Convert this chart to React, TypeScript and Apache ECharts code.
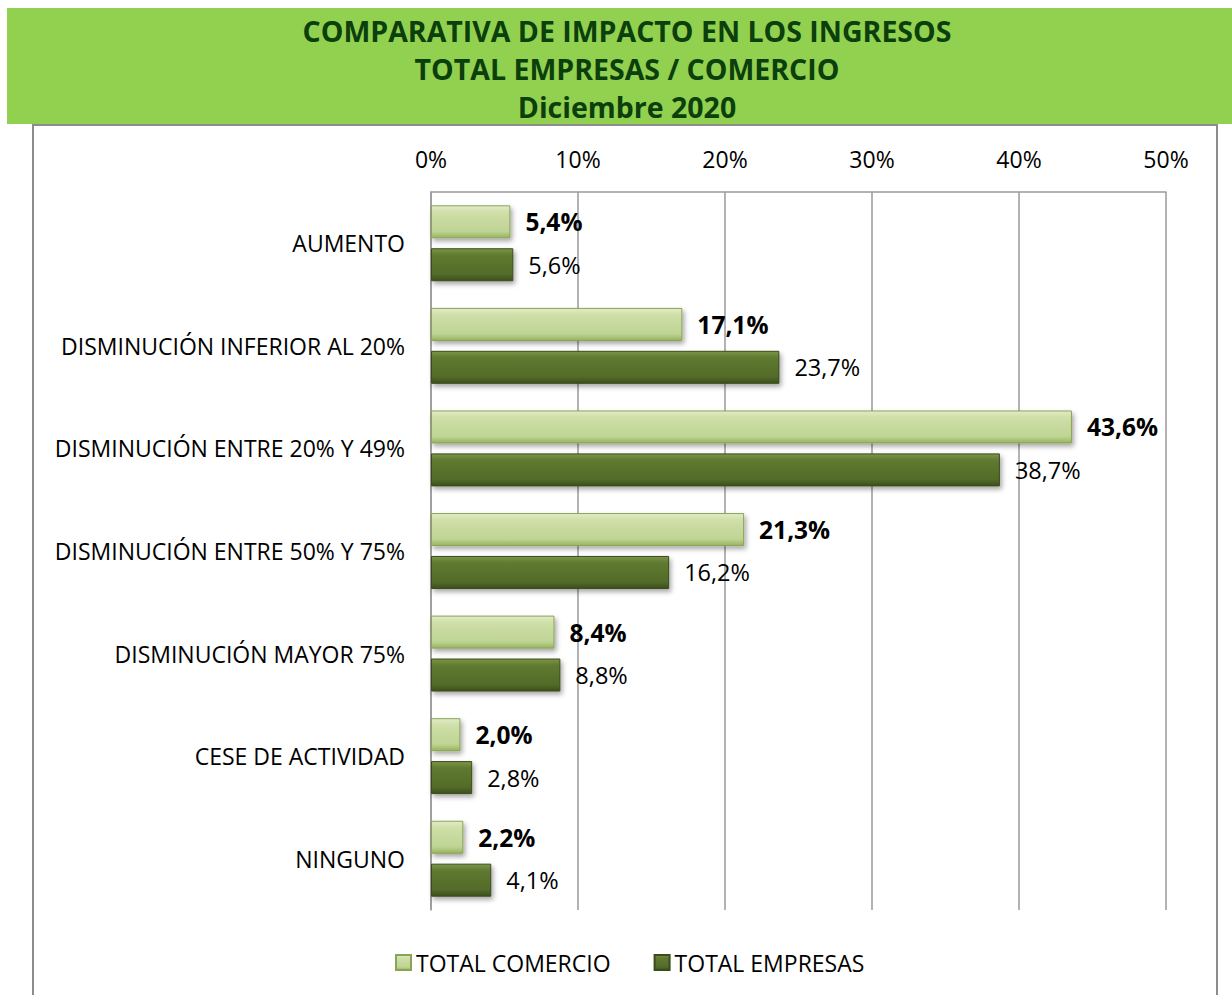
import React, { useEffect, useRef } from "react";
import * as echarts from "echarts";

const categories = [
  "AUMENTO",
  "DISMINUCIÓN INFERIOR AL 20%",
  "DISMINUCIÓN ENTRE 20% Y 49%",
  "DISMINUCIÓN ENTRE 50% Y 75%",
  "DISMINUCIÓN MAYOR 75%",
  "CESE DE ACTIVIDAD",
  "NINGUNO",
];
const comercio = [5.4, 17.1, 43.6, 21.3, 8.4, 2.0, 2.2];
const empresas = [5.6, 23.7, 38.7, 16.2, 8.8, 2.8, 4.1];
const seriesNames = ["TOTAL COMERCIO", "TOTAL EMPRESAS"];
const titleLines = [
  "COMPARATIVA DE IMPACTO EN LOS INGRESOS",
  "TOTAL EMPRESAS / COMERCIO",
  "Diciembre 2020",
];

const FONT = "'Open Sans', 'Noto Sans', sans-serif";
const fmt = (v: number) => v.toFixed(1).replace(".", ",") + "%";

const lightGrad = new echarts.graphic.LinearGradient(0, 0, 0, 1, [
  { offset: 0, color: "#e2ecc9" },
  { offset: 0.2, color: "#cfdfa8" },
  { offset: 0.8, color: "#bed494" },
  { offset: 1, color: "#97b35e" },
]);
const darkGrad = new echarts.graphic.LinearGradient(0, 0, 0, 1, [
  { offset: 0, color: "#7d9548" },
  { offset: 0.2, color: "#5f7a30" },
  { offset: 0.8, color: "#536b29" },
  { offset: 1, color: "#3c4f1c" },
]);

export default function App() {
  const ref = useRef<HTMLDivElement>(null);
  useEffect(() => {
    if (!ref.current) return;
    const chart = echarts.init(ref.current, null, { renderer: "svg" });
    chart.setOption({
      animation: false,
      backgroundColor: "#ffffff",
      textStyle: { fontFamily: FONT },
      graphic: [
        {
          type: "rect",
          shape: { x: 7, y: 8, width: 1225, height: 116 },
          style: { fill: "#92d050" },
          z: 0,
        },
        {
          type: "polyline",
          shape: { points: [[33, 995], [33, 125], [1217, 125], [1217, 995]] },
          style: { stroke: "#8c8c8c", lineWidth: 2, fill: "none" },
          z: 0,
        },
        ...titleLines.map((t, i) => ({
          type: "text",
          x: 627,
          y: 31 + i * 38,
          style: {
            text: t,
            fill: "#0b3f0b",
            font: `bold 28.5px ${FONT}`,
            align: "center",
            verticalAlign: "middle",
          },
          z: 1,
        })),
      ],
      grid: { left: 431, right: 66, top: 192, bottom: 85, containLabel: false },
      legend: {
        bottom: 16,
        left: 390,
        itemGap: 43,
        itemWidth: 15,
        itemHeight: 15,
        icon: "rect",
        textStyle: { fontSize: 23, color: "#000", fontFamily: FONT, padding: [0, 0, 0, 0] },
        data: seriesNames,
      },
      xAxis: {
        type: "value",
        position: "top",
        min: 0,
        max: 50,
        interval: 10,
        axisLine: { show: true, lineStyle: { color: "#9a9a9a", width: 1.5 } },
        axisTick: { show: false },
        splitLine: { show: true, lineStyle: { color: "#9a9a9a", width: 1.5 } },
        axisLabel: {
          formatter: "{value}%",
          fontSize: 23,
          color: "#000",
          margin: 22,
          fontFamily: FONT,
        },
      },
      yAxis: {
        type: "category",
        inverse: true,
        data: categories,
        axisLine: { show: true, lineStyle: { color: "#9a9a9a", width: 1.5 } },
        axisTick: { show: false },
        axisLabel: { fontSize: 23, color: "#000", margin: 26, fontFamily: FONT },
      },
      series: [
        {
          name: seriesNames[0],
          type: "bar",
          data: comercio,
          barWidth: 33,
          barGap: "30%",
          itemStyle: {
            color: lightGrad,
            borderColor: "#8aa455",
            borderWidth: 1,
            shadowColor: "rgba(0,0,0,0.35)",
            shadowBlur: 5,
            shadowOffsetX: 2,
            shadowOffsetY: 3,
          },
          label: {
            show: true,
            position: "right",
            distance: 15,
            formatter: (p: any) => fmt(p.value),
            fontSize: 24.5,
            fontWeight: "bold",
            color: "#000",
            fontFamily: FONT,
          },
        },
        {
          name: seriesNames[1],
          type: "bar",
          data: empresas,
          barWidth: 33,
          barGap: "30%",
          itemStyle: {
            color: darkGrad,
            borderColor: "#3a4c1b",
            borderWidth: 1,
            shadowColor: "rgba(0,0,0,0.35)",
            shadowBlur: 5,
            shadowOffsetX: 2,
            shadowOffsetY: 3,
          },
          label: {
            show: true,
            position: "right",
            distance: 15,
            formatter: (p: any) => fmt(p.value),
            fontSize: 23.5,
            color: "#000",
            fontFamily: FONT,
          },
        },
      ],
    });
    return () => chart.dispose();
  }, []);
  return (
    <div
      ref={ref}
      style={{ position: "absolute", left: 0, top: 0, width: 1232, height: 995 }}
    />
  );
}
